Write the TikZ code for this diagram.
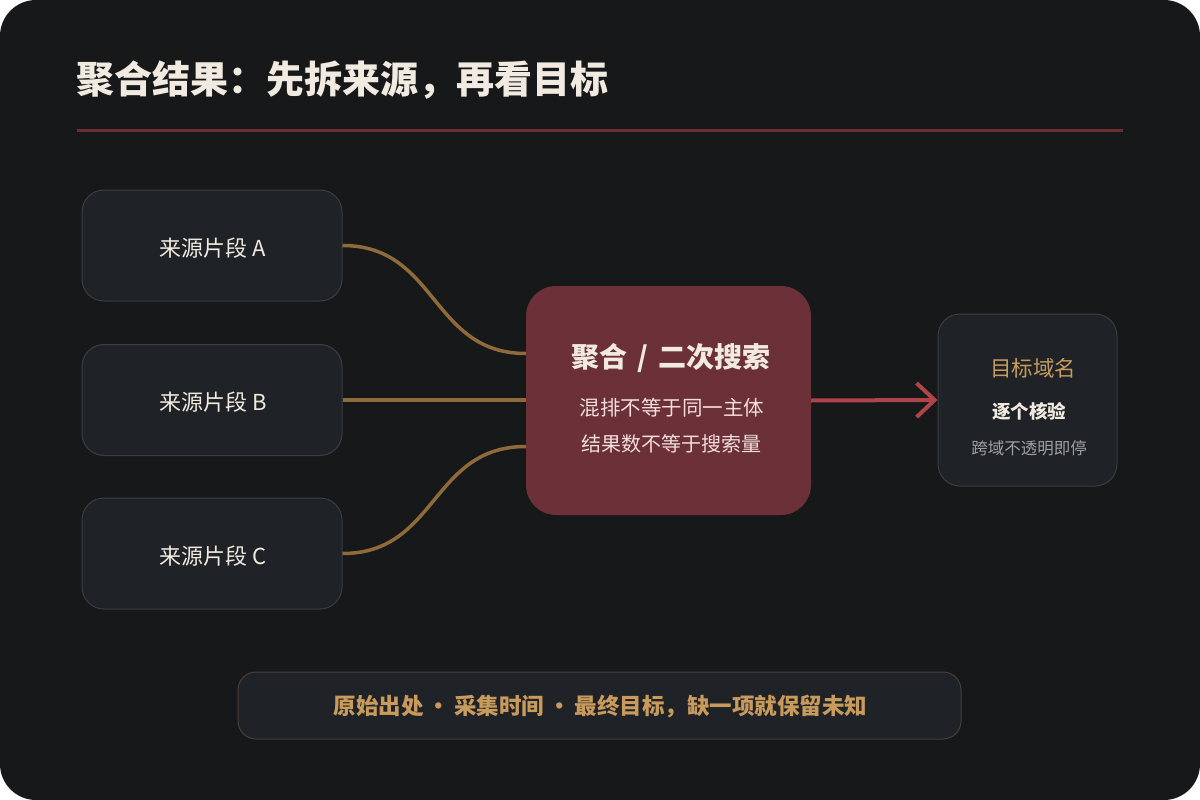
\documentclass[tikz,border=0pt]{standalone}
\usepackage{fontspec}
\setmainfont{Noto Sans CJK SC}
\usetikzlibrary{arrows.meta}
\definecolor{pagebg}{HTML}{17181A}
\definecolor{boxfill}{HTML}{1F2226}
\definecolor{boxline}{HTML}{3A3D42}
\definecolor{titlec}{HTML}{F1EAE0}
\definecolor{rulec}{HTML}{6A2E33}
\definecolor{midfill}{HTML}{6B3038}
\definecolor{midsub}{HTML}{F2DEDD}
\definecolor{wirec}{HTML}{8F6B3A}
\definecolor{arrowc}{HTML}{B0444B}
\definecolor{goldc}{HTML}{C89B5C}
\definecolor{grayc}{HTML}{A0A0A0}
\definecolor{noteline}{HTML}{4A4036}
\tikzset{
  srcbox/.style={draw=boxline, line width=1pt, fill=boxfill, rounded corners=22pt,
    minimum width=260pt, minimum height=111pt, inner sep=0pt},
  midbox/.style={fill=midfill, rounded corners=30pt, minimum width=285pt,
    minimum height=229pt, inner sep=0pt},
  tgtbox/.style={draw=boxline, line width=1pt, fill=boxfill, rounded corners=22pt,
    minimum width=179pt, minimum height=172pt, inner sep=0pt},
  notebox/.style={draw=noteline, line width=1pt, fill=boxfill, rounded corners=18pt,
    minimum width=723pt, minimum height=67pt, inner sep=0pt},
  srclbl/.style={inner sep=0pt, anchor=center, text=titlec, font=\fontsize{22}{26}\selectfont},
  wire/.style={draw=wirec, line width=3.5pt},
  lbl/.style={inner sep=0pt, anchor=center},
}
\begin{document}
\begin{tikzpicture}[x=1pt, y=-1pt]
\useasboundingbox (0,0) rectangle (1200,800);
\fill[white] (0,0) rectangle (1200,800);
\fill[pagebg, rounded corners=36pt] (0,0) rectangle (1200,800);

\node[lbl, anchor=west, text=titlec, font=\fontsize{38}{44}\selectfont\bfseries] (title) at (76,80) {聚合结果：先拆来源，再看目标};
\draw[rulec, line width=3pt] (77,130) -- (1123,130);

\node[srcbox] (A) at (212,245.5) {};
\node[srcbox] (B) at (212,400) {};
\node[srcbox] (C) at (212,553.5) {};
\node[srclbl] (Al) at (213,248) {来源片段 A};
\node[srclbl] (Bl) at (213,402) {来源片段 B};
\node[srclbl] (Cl) at (213,556) {来源片段 C};

\node[midbox] (M) at (668.5,400.5) {};
\node[lbl, text=titlec, font=\fontsize{28}{32}\selectfont\bfseries] (mt) at (671,358) {聚合\hspace{0.35em}/\hspace{0.35em}二次搜索};
\node[lbl, text=midsub, font=\fontsize{20.5}{24}\selectfont] (m1) at (672,408) {混排不等于同一主体};
\node[lbl, text=midsub, font=\fontsize{20}{24}\selectfont] (m2) at (671,444) {结果数不等于搜索量};

\node[tgtbox] (T) at (1027.5,400) {};
\node[lbl, text=goldc, font=\fontsize{21.5}{25}\selectfont] (t1) at (1033,368) {目标域名};
\node[lbl, text=titlec, font=\fontsize{18.5}{22}\selectfont\bfseries] (t2) at (1029,411) {逐个核验};
\node[lbl, text=grayc, font=\fontsize{16.5}{20}\selectfont] (t3) at (1029,448) {跨域不透明即停};

\node[notebox] (N) at (599.5,705.5) {};
\node[lbl, text=goldc, font=\fontsize{22.5}{26}\selectfont\bfseries] (Nl) at (600.5,707) {原始出处\hspace{0.18em}·\hspace{0.18em}采集时间\hspace{0.18em}·\hspace{0.18em}最终目标，缺一项就保留未知};

\draw[wire] (A.east) .. controls +(95,0) and +(-95,0) .. ([yshift=47pt]M.west);
\draw[wire] (B.east) -- (B.east -| M.west);
\draw[wire] (C.east) .. controls +(95,0) and +(-95,0) .. ([yshift=-46pt]M.west);

\draw[arrowc, line width=4pt, -{Straight Barb[length=18pt, width=34pt, line width=4pt]}] (M.east) -- (T.west);
\end{tikzpicture}
\end{document}
